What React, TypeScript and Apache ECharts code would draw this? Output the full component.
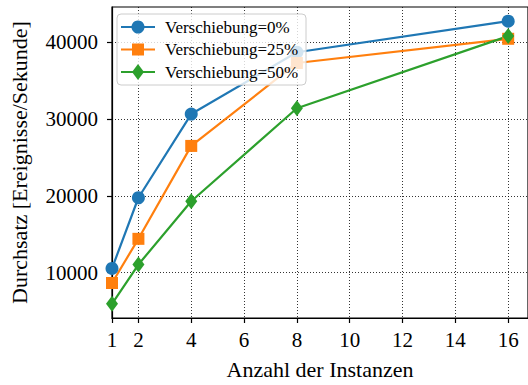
import React, { useEffect, useRef } from "react";
import * as echarts from "echarts";

const instances = [1, 2, 4, 8, 16];
const shift0 = [10550, 19750, 30650, 38700, 42750];
const shift25 = [8650, 14400, 26500, 37300, 40450];
const shift50 = [5930, 11050, 19300, 31400, 40800];
const seriesNames = ["Verschiebung=0%", "Verschiebung=25%", "Verschiebung=50%"];
const seriesColors = ["#1f77b4", "#ff7f0e", "#2ca02c"];
const xTicks = [1, 2, 4, 6, 8, 10, 12, 14, 16];
const yTicks = [10000, 20000, 30000, 40000];

const FONT = "Liberation Serif";

export default function App() {
  const ref = useRef<HTMLDivElement>(null);
  useEffect(() => {
    if (!ref.current) return;
    const chart = echarts.init(ref.current, undefined, { renderer: "svg" });
    const mk = (name: string, vals: number[], color: string, symbol: string, size: any) => ({
      name,
      type: "line",
      data: instances.map((x, i) => [x, vals[i]]),
      clip: false,
      symbol,
      symbolSize: size,
      color,
      lineStyle: { color, width: 2.2 },
      itemStyle: { color },
      z: 3,
    });

    // legend drawn as graphic
    const lx = 117, ly = 14, rowH = 22.5;
    const Z = 100;
    const legendChildren: any[] = [
      {
        type: "rect",
        z: Z,
        shape: { x: 0, y: 0, width: 189, height: 71, r: 4 },
        style: { fill: "rgba(255,255,255,0.8)", stroke: "#cccccc", lineWidth: 1 },
      },
    ];
    seriesNames.forEach((name, i) => {
      const cy = 13 + i * rowH;
      const c = seriesColors[i];
      legendChildren.push({
        type: "line",
        z: Z + 1,
        shape: { x1: 4, y1: cy, x2: 38, y2: cy },
        style: { stroke: c, lineWidth: 2.2 },
      });
      if (i === 0) {
        legendChildren.push({ type: "circle", z: Z + 2, shape: { cx: 21, cy, r: 6.5 }, style: { fill: c } });
      } else if (i === 1) {
        legendChildren.push({ type: "rect", z: Z + 2, shape: { x: 15, y: cy - 6, width: 12, height: 12 }, style: { fill: c } });
      } else {
        legendChildren.push({
          type: "polygon",
          z: Z + 2,
          shape: { points: [[21, cy - 8], [27, cy], [21, cy + 8], [15, cy]] },
          style: { fill: c },
        });
      }
      legendChildren.push({
        type: "text",
        z: Z + 2,
        x: 48,
        y: cy,
        style: { text: name, fontFamily: FONT, fontSize: 17, fill: "#000", verticalAlign: "middle", align: "left" },
      });
    });

    chart.setOption({
      animation: false,
      backgroundColor: "#fff",
      textStyle: { fontFamily: FONT },
      grid: {
        left: 109,
        top: 7,
        right: -4,
        bottom: 63,
        show: true,
        borderColor: "#000",
        borderWidth: 1.2,
        backgroundColor: "transparent",
      },
      graphic: [{ type: "group", x: lx, y: ly, z: Z, children: legendChildren }],
      xAxis: {
        type: "value",
        min: 1,
        max: 16.75,
        name: "Anzahl der Instanzen",
        nameLocation: "middle",
        nameGap: 40,
        nameTextStyle: { fontFamily: FONT, fontSize: 22, color: "#000" },
        axisLine: { show: true, lineStyle: { color: "#000", width: 1.2 } },
        axisTick: { show: true, length: 5, customValues: xTicks, lineStyle: { color: "#000", width: 1.2 } },
        axisLabel: {
          customValues: xTicks,
          fontFamily: FONT,
          fontSize: 21,
          color: "#000",
          margin: 11,
        },
        splitLine: { show: true, lineStyle: { color: "#000", width: 0.8, type: [1, 2] } },
      },
      yAxis: {
        type: "value",
        min: 4090,
        max: 44590,
        name: "Durchsatz [Ereignisse/Sekunde]",
        nameLocation: "middle",
        nameGap: 82,
        nameTextStyle: { fontFamily: FONT, fontSize: 22, color: "#000" },
        axisLine: { show: true, lineStyle: { color: "#000", width: 1.2 } },
        axisTick: { show: true, length: 5, customValues: yTicks, lineStyle: { color: "#000", width: 1.2 } },
        axisLabel: {
          customValues: yTicks,
          formatter: (v: number) => String(v),
          fontFamily: FONT,
          fontSize: 21,
          color: "#000",
          margin: 14,
        },
        splitLine: { show: true, lineStyle: { color: "#000", width: 0.8, type: [1, 2] } },
      },
      series: [
        mk(seriesNames[0], shift0, seriesColors[0], "circle", 13),
        mk(seriesNames[1], shift25, seriesColors[1], "rect", 12),
        mk(seriesNames[2], shift50, seriesColors[2], "diamond", [12, 16]),
      ],
    });
    return () => chart.dispose();
  }, []);
  return <div ref={ref} style={{ width: 528, height: 385, position: "absolute", left: 0, top: 0 }} />;
}
